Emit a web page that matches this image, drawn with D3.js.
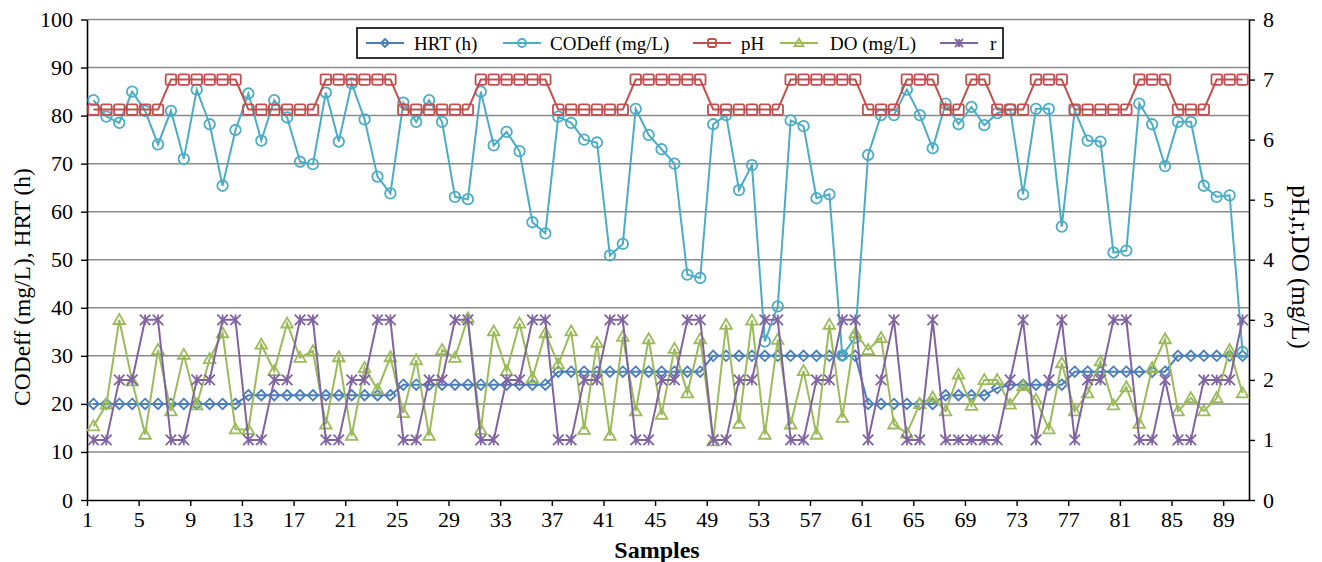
<!DOCTYPE html>
<html lang="en">
<head>
    <meta charset="UTF-8">
    <title>HRT, CODeff, pH, DO and r by sample</title>
    <style>
        body { margin: 0; background: #fff; }
        svg text { font-family: "Liberation Serif", "Times New Roman", serif; fill: #000; }
    </style>
</head>
<body>
    <div id="chart"></div>

    <script src="https://cdn.jsdelivr.net/npm/d3@7"></script>
    <script>
        const w = 1322;
        const h = 562;

        // samples 1..90
        const samples = d3.range(1, 91);
        const xTickLabels = [1, 5, 9, 13, 17, 21, 25, 29, 33, 37, 41, 45, 49, 53, 57, 61, 65, 69, 73, 77, 81, 85, 89];
        const leftTicks = [0, 10, 20, 30, 40, 50, 60, 70, 80, 90, 100];
        const rightTicks = [0, 1, 2, 3, 4, 5, 6, 7, 8];

        // left axis series
        const hrt = [20, 20, 20, 20, 20, 20, 20, 20, 20, 20, 20, 20,
                     21.8, 21.8, 21.8, 21.8, 21.8, 21.8, 21.8, 21.8, 21.8, 21.8, 21.8, 21.8,
                     24, 24, 24, 24, 24, 24, 24, 24, 24, 24, 24, 24,
                     26.7, 26.7, 26.7, 26.7, 26.7, 26.7, 26.7, 26.7, 26.7, 26.7, 26.7, 26.7,
                     30, 30, 30, 30, 30, 30, 30, 30, 30, 30, 30, 30,
                     20, 20, 20, 20, 20, 20,
                     21.8, 21.8, 21.8, 21.8,
                     23.3, 24, 24, 24, 24, 24,
                     26.7, 26.7, 26.7, 26.7, 26.7, 26.7, 26.7, 26.7,
                     30, 30, 30, 30, 30, 30];
        const codEff = [83.2, 79.8, 78.5, 85, 81, 74, 81, 71, 85.4, 78.2,
                        65.4, 77, 84.6, 74.8, 83.2, 79.6, 70.4, 69.9, 84.8, 74.6,
                        86.7, 79.2, 67.3, 63.8, 82.7, 78.7, 83.2, 78.7, 63.1, 62.6,
                        85, 73.8, 76.6, 72.6, 57.8, 55.5, 79.8, 78.5, 75, 74.4,
                        50.9, 53.3, 81.4, 76, 73, 70, 46.9, 46.2, 78.2, 80.1,
                        64.5, 69.7, 33, 40.3, 79, 77.8, 62.8, 63.6, 30.1, 33.8,
                        71.8, 80.1, 80.1, 85.4, 80.1, 73.2, 82.5, 78.2, 81.8, 78,
                        80.5, 81.3, 63.6, 81.4, 81.4, 56.9, 81.1, 74.8, 74.6, 51.5,
                        51.9, 82.5, 78.2, 69.5, 78.7, 78.7, 65.4, 63.1, 63.4, 30.8];

        // right axis series
        const pH = [6.5, 6.5, 6.5, 6.5, 6.5, 6.5, 7, 7, 7, 7, 7, 7,
                    6.5, 6.5, 6.5, 6.5, 6.5, 6.5, 7, 7, 7, 7, 7, 7,
                    6.5, 6.5, 6.5, 6.5, 6.5, 6.5, 7, 7, 7, 7, 7, 7,
                    6.5, 6.5, 6.5, 6.5, 6.5, 6.5, 7, 7, 7, 7, 7, 7,
                    6.5, 6.5, 6.5, 6.5, 6.5, 6.5, 7, 7, 7, 7, 7, 7,
                    6.5, 6.5, 6.5, 7, 7, 7, 6.5, 6.5, 7, 7,
                    6.5, 6.5, 6.5, 7, 7, 7, 6.5, 6.5, 6.5, 6.5, 6.5,
                    7, 7, 7, 6.5, 6.5, 6.5, 7, 7, 7];
        const dO = [1.23, 1.59, 3.0, 1.98, 1.09, 2.5, 1.48, 2.42, 1.58, 2.35,
                    2.78, 1.18, 1.17, 2.59, 2.15, 2.94, 2.37, 2.48, 1.26, 2.38,
                    1.07, 2.2, 1.84, 2.38, 1.45, 2.33, 1.07, 2.5, 2.37, 3.03,
                    1.17, 2.81, 2.15, 2.94, 2.03, 2.78, 2.26, 2.81, 1.17, 2.62,
                    1.07, 2.72, 1.48, 2.68, 1.42, 2.52, 1.78, 2.68, 0.98, 2.92,
                    1.27, 2.99, 1.09, 2.67, 1.26, 2.15, 1.09, 2.92, 1.37, 2.78,
                    2.5, 2.7, 1.26, 1.11, 1.6, 1.71, 1.48, 2.09, 1.57, 2.0,
                    2.0, 1.59, 1.9, 1.67, 1.18, 2.28, 1.48, 1.78, 2.31, 1.58,
                    1.88, 1.27, 2.2, 2.68, 1.48, 1.7, 1.48, 1.7, 2.5, 1.78];
        const r = [1, 1, 2, 2, 3, 3, 1, 1, 2, 2, 3, 3,
                   1, 1, 2, 2, 3, 3, 1, 1, 2, 2, 3, 3,
                   1, 1, 2, 2, 3, 3, 1, 1, 2, 2, 3, 3,
                   1, 1, 2, 2, 3, 3, 1, 1, 2, 2, 3, 3,
                   1, 1, 2, 2, 3, 3, 1, 1, 2, 2, 3, 3,
                   1, 2, 3, 1, 1, 3, 1, 1, 1, 1,
                   1, 2, 3, 1, 2, 3, 1, 2, 2, 3,
                   3, 1, 1, 2, 1, 1, 2, 2, 2, 3];

        const series = [
            {name: 'HRT (h)', values: hrt, axis: 'left', color: '#4a7ebb', marker: 'diamond'},
            {name: 'CODeff (mg/L)', values: codEff, axis: 'left', color: '#4bacc6', marker: 'circle'},
            {name: 'pH', values: pH, axis: 'right', color: '#c0504d', marker: 'square'},
            {name: 'DO (mg/L)', values: dO, axis: 'right', color: '#9bbb59', marker: 'triangle'},
            {name: 'r', values: r, axis: 'right', color: '#8064a2', marker: 'star'}
        ];

        const padL = 87, padR = 1249, padT = 19.5, padB = 500;

        const xScale = d3.scaleLinear().domain([0.5, 90.5]).range([padL, padR]);
        const yLeft = d3.scaleLinear().domain([0, 100]).range([padB, padT]);
        const yRight = d3.scaleLinear().domain([0, 8]).range([padB, padT]);

        const svg = d3.select('#chart')
            .append('svg')
            .attr('width', w)
            .attr('height', h);

        // gridlines
        svg.append('g')
            .selectAll('line')
            .data(leftTicks.filter(d => d > 0))
            .enter()
            .append('line')
            .attr('x1', padL)
            .attr('x2', padR)
            .attr('y1', d => yLeft(d))
            .attr('y2', d => yLeft(d))
            .attr('stroke', '#8a8a8a')
            .attr('stroke-width', 1.5);

        // axes
        const xAxis = d3.axisBottom(xScale)
            .tickValues(xTickLabels.map(d => d - 0.5))
            .tickFormat(d => d + 0.5)
            .tickSize(6)
            .tickPadding(5)
            .tickSizeOuter(0);
        const leftAxis = d3.axisLeft(yLeft)
            .tickValues(leftTicks)
            .tickSize(6)
            .tickPadding(8)
            .tickSizeOuter(0);
        const rightAxis = d3.axisRight(yRight)
            .tickValues(rightTicks)
            .tickSize(6)
            .tickPadding(8)
            .tickSizeOuter(0);

        function styleAxis(g) {
            g.select('.domain').attr('stroke', '#000').attr('stroke-width', 1.6);
            g.selectAll('.tick line').attr('stroke', '#000').attr('stroke-width', 1.4);
            g.selectAll('.tick text')
                .style('font-family', '"Liberation Serif", serif')
                .style('font-size', '22px')
                .attr('fill', '#000');
        }

        svg.append('g')
            .attr('transform', `translate(0, ${padB})`)
            .call(xAxis)
            .call(styleAxis);
        svg.append('g')
            .attr('transform', `translate(${padL}, 0)`)
            .call(leftAxis)
            .call(styleAxis);
        svg.append('g')
            .attr('transform', `translate(${padR}, 0)`)
            .call(rightAxis)
            .call(styleAxis);

        // marker drawing
        function drawMarker(g, type, color, size) {
            const s = size / 2;
            if (type === 'diamond') {
                g.append('path').attr('d', `M0,${-s}L${s},0L0,${s}L${-s},0Z`)
                    .attr('fill', 'none').attr('stroke', color).attr('stroke-width', 1.8);
            } else if (type === 'circle') {
                g.append('circle').attr('r', s)
                    .attr('fill', 'none').attr('stroke', color).attr('stroke-width', 1.8);
            } else if (type === 'square') {
                g.append('rect').attr('x', -s).attr('y', -s).attr('width', size).attr('height', size)
                    .attr('rx', 1.5)
                    .attr('fill', 'none').attr('stroke', color).attr('stroke-width', 1.8);
            } else if (type === 'triangle') {
                g.append('path').attr('d', `M0,${-s * 1.1}L${s * 1.1},${s * 0.8}L${-s * 1.1},${s * 0.8}Z`)
                    .attr('fill', 'none').attr('stroke', color).attr('stroke-width', 1.8);
            } else if (type === 'star') {
                g.append('path').attr('d', `M${-s},${-s}L${s},${s}M${-s},${s}L${s},${-s}M0,${-s}L0,${s}`)
                    .attr('fill', 'none').attr('stroke', color).attr('stroke-width', 1.8);
            }
        }

        const line = d3.line();

        series.forEach(sr => {
            const y = sr.axis === 'left' ? yLeft : yRight;
            const pts = samples.map((s, i) => [xScale(s), y(sr.values[i])]);
            const g = svg.append('g');
            g.append('path')
                .attr('d', line(pts))
                .attr('fill', 'none')
                .attr('stroke', sr.color)
                .attr('stroke-width', 2);
            g.selectAll('g.mk')
                .data(pts)
                .enter()
                .append('g')
                .attr('class', 'mk')
                .attr('transform', d => `translate(${d[0]}, ${d[1]})`)
                .each(function () { drawMarker(d3.select(this), sr.marker, sr.color, 10.5); });
        });

        // axis titles
        svg.append('text')
            .attr('transform', 'translate(30, 287) rotate(-90)')
            .attr('text-anchor', 'middle')
            .style('font-size', '23.5px')
            .text('CODeff (mg/L), HRT (h)');
        svg.append('text')
            .attr('transform', 'translate(1292, 267) rotate(90)')
            .attr('text-anchor', 'middle')
            .style('font-size', '25px')
            .text('pH,r,DO (mg/L)');
        svg.append('text')
            .attr('x', 657)
            .attr('y', 558)
            .attr('text-anchor', 'middle')
            .style('font-size', '24px')
            .style('font-weight', 'bold')
            .text('Samples');

        // legend
        const legend = svg.append('g');
        legend.append('rect')
            .attr('x', 357)
            .attr('y', 28)
            .attr('width', 646)
            .attr('height', 30)
            .attr('fill', '#fff')
            .attr('stroke', '#000')
            .attr('stroke-width', 1.6);
        const legendSym = [366, 503, 693, 780, 940];
        const legendText = [414, 550, 741, 830, 990];
        series.forEach((sr, i) => {
            const lx = legendSym[i];
            legend.append('line')
                .attr('x1', lx).attr('x2', lx + 38)
                .attr('y1', 43).attr('y2', 43)
                .attr('stroke', sr.color).attr('stroke-width', 2);
            const mg = legend.append('g').attr('transform', `translate(${lx + 19}, 43)`);
            drawMarker(mg, sr.marker, sr.color, 8);
            legend.append('text')
                .attr('x', legendText[i])
                .attr('y', 49.5)
                .style('font-size', '19px')
                .text(sr.name);
        });
    </script>
</body>
</html>
